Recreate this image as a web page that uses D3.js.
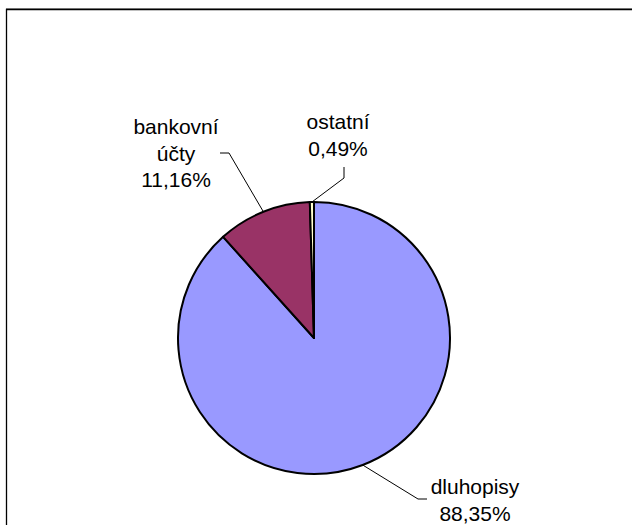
<!DOCTYPE html>
<html>
<head>
<meta charset="utf-8">
<script src="https://cdn.jsdelivr.net/npm/d3@7/dist/d3.min.js"></script>
<style>
  html, body { margin: 0; padding: 0; background: #fff; }
  svg { display: block; }
  text { font-family: "Liberation Sans", Arial, sans-serif; fill: #000; }
</style>
</head>
<body>
<svg id="chart" width="632" height="525"></svg>
<script>
// Portfolio structure (share of assets, %)
const categories = ["dluhopisy", "bankovní účty", "ostatní"];
const shares = [88.35, 11.16, 0.49];
const labelLines = [["dluhopisy"], ["bankovní", "účty"], ["ostatní"]];
const colors = ["#9999FF", "#993366", "#FFFFCC"];

const fmt = v => v.toFixed(2).replace(".", ",") + "%";

const W = 632, H = 525;
const cx = 314, cy = 338, radius = 136;

// label anchors relative to the pie centre: text centre x, first baseline, leader elbow and tail
const labelLayout = [
  { tx: 161, base: 156, elbow: [104, 161], tail: [113, 161] },
  { tx: -138, base: -204, elbow: [-85, -185], tail: [-94, -185] },
  { tx: 24, base: -209, elbow: [30, -160], tail: [30, -171] }
];

const svg = d3.select("#chart");

// chart area frame
svg.append("line").attr("x1", 6).attr("x2", W).attr("y1", 8.5).attr("y2", 8.5)
  .attr("stroke", "#999").attr("stroke-width", 1);
svg.append("path")
  .attr("d", `M6.5,${H} L6.5,9.5 L${W},9.5`)
  .attr("fill", "none").attr("stroke", "#000").attr("stroke-width", 1.3);

const data = categories.map((c, i) => ({ name: c, value: shares[i], lines: labelLines[i], color: colors[i], layout: labelLayout[i] }));

const pie = d3.pie().value(d => d.value).sort(null).startAngle(0).endAngle(2 * Math.PI);
const arc = d3.arc().innerRadius(0).outerRadius(radius);
const arcs = pie(data);

const g = svg.append("g").attr("transform", `translate(${cx},${cy})`);

g.selectAll("path.slice")
  .data(arcs)
  .join("path")
  .attr("class", "slice")
  .attr("d", arc)
  .attr("fill", d => d.data.color)
  .attr("stroke", "#000")
  .attr("stroke-width", 2)
  .attr("stroke-linejoin", "round");

// leader lines from the slice edge
const edgePoint = d => {
  const a = (d.startAngle + d.endAngle) / 2;
  return [radius * Math.sin(a), -radius * Math.cos(a)];
};

g.selectAll("polyline.leader")
  .data(arcs)
  .join("polyline")
  .attr("class", "leader")
  .attr("points", d => [edgePoint(d), d.data.layout.elbow, d.data.layout.tail].map(p => p.join(",")).join(" "))
  .attr("fill", "none")
  .attr("stroke", "#000")
  .attr("stroke-width", 1);

// labels: name lines followed by share
const fontSize = 21, lineH = 26.5;
const labels = g.selectAll("text.label")
  .data(arcs)
  .join("text")
  .attr("class", "label")
  .attr("text-anchor", "middle")
  .attr("font-size", fontSize);

labels.each(function(d) {
  const lines = [...d.data.lines, fmt(d.data.value)];
  const t = d3.select(this);
  lines.forEach((ln, k) => {
    t.append("tspan")
      .attr("x", d.data.layout.tx)
      .attr("y", d.data.layout.base + k * lineH)
      .text(ln);
  });
});
</script>
</body>
</html>
